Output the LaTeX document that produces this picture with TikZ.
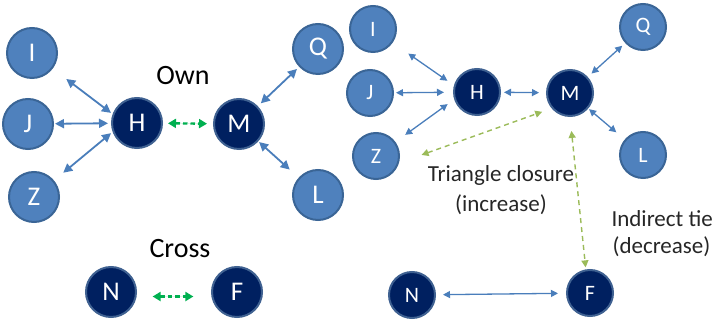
\documentclass[tikz,border=0pt]{standalone}
\usepackage{fontspec}
\setmainfont{Carlito}
\usetikzlibrary{arrows.meta}
\definecolor{lightfill}{HTML}{4F81BD}
\definecolor{lightdraw}{HTML}{3A6596}
\definecolor{darkfill}{HTML}{002060}
\definecolor{darkdraw}{HTML}{3F6191}
\definecolor{arrblue}{HTML}{4A7EBB}
\definecolor{greenA}{HTML}{00B050}
\definecolor{greenB}{HTML}{9BBB59}
\tikzset{
  bigcirc/.style={circle, minimum size=50pt, inner sep=0pt, line width=2pt, text=white, font=\fontsize{27}{27}\selectfont},
  smallcirc/.style={circle, minimum size=46pt, inner sep=0pt, line width=2pt, text=white, font=\fontsize{22}{22}\selectfont},
  lightn/.style={fill=lightfill, draw=lightdraw},
  darkn/.style={fill=darkfill, draw=darkdraw},
  bigarr/.style={draw=arrblue, line width=1.8pt, {Triangle[length=9pt,width=9pt]}-{Triangle[length=9pt,width=9pt]}},
  smallarr/.style={draw=arrblue, line width=1.3pt, {Triangle[length=7pt,width=7pt]}-{Triangle[length=7pt,width=7pt]}},
  greenarrA/.style={draw=greenA, fill=greenA, line width=2.4pt, dash pattern=on 4.5pt off 3pt, {Triangle[length=8pt,width=9pt]}-{Triangle[length=8pt,width=9pt]}},
  greenarrB/.style={draw=greenB, line width=1.4pt, dash pattern=on 5pt off 4pt, {Triangle[length=7pt,width=7pt]}-{Triangle[length=7pt,width=7pt]}},
  bigtxt/.style={anchor=base, font=\fontsize{28}{28}\selectfont, text=black},
  smalltxt/.style={anchor=base, font=\fontsize{23}{23}\selectfont, text=black!85},
  smalltxtL/.style={anchor=base west, font=\fontsize{23}{23}\selectfont, text=black!85},
}
\begin{document}
\begin{tikzpicture}[x=1pt, y=-1pt]
\useasboundingbox (0,0) rectangle (713,320);
% ---------- left panel ----------
\node[bigcirc, lightn] (lI) at (32,53) {I};
\node[bigcirc, lightn] (lJ) at (28,124) {J};
\node[bigcirc, lightn] (lZ) at (34,197) {Z};
\node[bigcirc, darkn]  (lH) at (137,123) {H};
\node[bigcirc, darkn]  (lM) at (239,124) {M};
\node[bigcirc, lightn] (lQ) at (318,49) {Q};
\node[bigcirc, lightn] (lL) at (318,195) {L};
\node[bigcirc, darkn]  (lN) at (111,292) {N};
\node[bigcirc, darkn]  (lF) at (237,292) {F};
\node[bigtxt] (own) at (183,85) {Own};
\node[bigtxt] (cross) at (180,258) {Cross};

\draw[bigarr, shorten <=17pt, shorten >=2pt] (lI) -- (lH.160);
\draw[bigarr, shorten <=1pt, shorten >=3pt] (lJ) -- (lH);
\draw[bigarr, shorten <=12pt, shorten >=2pt] (lZ) -- (lH.200);
\draw[bigarr, shorten <=4pt, shorten >=3pt] (lM) -- (lQ);
\draw[bigarr, shorten <=1pt, shorten >=12pt] (lM) -- (lL);
\draw[greenarrA, shorten <=5pt, shorten >=6pt] (lH) -- (lM);
\draw[greenarrA, shorten <=16pt, shorten >=18pt] (lN.-10) -- (lF.190);

% ---------- right panel ----------
\node[smallcirc, lightn] (rI) at (373,29) {I};
\node[smallcirc, lightn] (rJ) at (370,93) {J};
\node[smallcirc, lightn] (rZ) at (376,156) {Z};
\node[smallcirc, darkn]  (rH) at (477,92) {H};
\node[smallcirc, darkn]  (rM) at (570,93) {M};
\node[smallcirc, lightn] (rQ) at (643,27) {Q};
\node[smallcirc, lightn] (rL) at (643,155) {L};
\node[smallcirc, darkn]  (rN) at (412,295) {N};
\node[smallcirc, darkn]  (rF) at (590,293) {F};

\node[smalltxt] (tc1) at (501,182) {Triangle closure};
\node[smalltxt] (tc2) at (501,212) {(increase)};
\node[smalltxtL] (it1) at (608,227) {Indirect tie};
\node[smalltxtL] (it2) at (609,254) {(decrease)};

\draw[smallarr, shorten <=19pt, shorten >=8pt] (rI) -- (rH.164);
\draw[smallarr, shorten <=2pt, shorten >=9pt] (rJ) -- (rH);
\draw[smallarr, shorten <=12pt, shorten >=8pt] (rZ) -- (rH.198);
\draw[smallarr, shorten <=3pt, shorten >=7pt] (rH) -- (rM);
\draw[smallarr, shorten <=5pt, shorten >=4pt] (rM) -- (rQ);
\draw[smallarr, shorten <=1pt, shorten >=11pt] (rM) -- (rL);
\draw[smallarr, shorten <=7pt, shorten >=8pt] (rN) -- (rF);
\draw[greenarrB, shorten <=24pt, shorten >=10pt] (rZ.-17) -- (rM.220);
\draw[greenarrB, shorten <=14pt, shorten >=2pt] (rM.south) -- (rF.100);
\end{tikzpicture}
\end{document}
